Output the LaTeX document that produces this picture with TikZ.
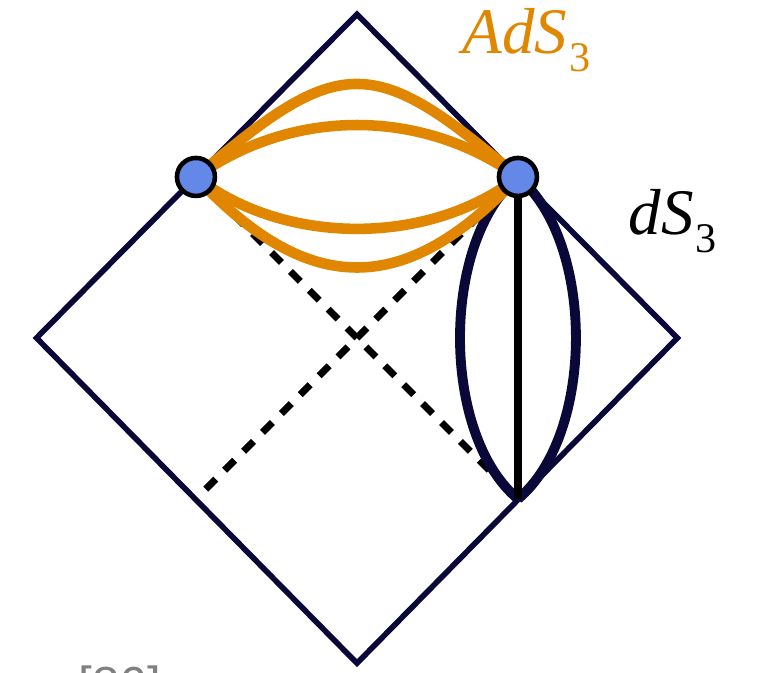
\documentclass[tikz,border=0pt]{standalone}
\usepackage{fontspec}
\setmainfont{Liberation Serif}
\newfontfamily\citefont{Liberation Sans}
\usepackage{tikz}
\usetikzlibrary{positioning,calc}
\definecolor{navy}{HTML}{0A0838}
\definecolor{adsorange}{HTML}{E08600}
\definecolor{dotblue}{HTML}{6388E8}

\begin{document}
\begin{tikzpicture}[x=1.61cm,y=1.61cm,
    edge/.style={navy, line width=1.6pt, line join=miter},
    horizon/.style={black, line width=2pt, dash pattern=on 4pt off 3.6pt},
    geo/.style={adsorange, line width=3pt},
    dsgeo/.style={navy, line width=2.8pt},
    bdot/.style={circle, draw=black, fill=dotblue, line width=1.3pt,
      minimum size=0.38cm, inner sep=0pt}]
    \clip (-2.217,-2.075) rectangle (2.559,2.099);
    \useasboundingbox (-2.217,-2.075) rectangle (2.559,2.099);

    % Corners of the diamond
    \coordinate (T) at (0,2.01);
    \coordinate (W) at (-1.99,0);
    \coordinate (Bt) at (0,-2.02);
    \coordinate (E) at (1.99,0);
    \coordinate (pL) at (-1,1);
    \coordinate (pR) at (1,1);
    \coordinate (qL) at (-1,-1);
    \coordinate (qR) at (1,-1);

    % Diamond
    \draw[edge] (T) -- (E) -- (Bt) -- (W) -- cycle;

    % Horizons
    \draw[horizon] (pL) -- (qR);
    \draw[horizon] (pR) -- (qL);

    % dS_3 slices
    \draw[dsgeo] (pR) .. controls (0.52,0.6) and (0.52,-0.6) .. (qR);
    \draw[dsgeo] (pR) .. controls (1.48,0.6) and (1.48,-0.6) .. (qR);
    \draw[black, line width=2.5pt] (pR) -- (qR);

    % AdS_3 slices
    \draw[geo] (pL) .. controls (-0.1,1.77) and (0.1,1.77) .. (pR);
    \draw[geo] (pL) .. controls (-0.4,1.43) and (0.4,1.43) .. (pR);
    \draw[geo] (pL) .. controls (-0.45,0.57) and (0.45,0.57) .. (pR);
    \draw[geo] (pL) .. controls (-0.3,0.25) and (0.3,0.25) .. (pR);

    % Endpoints
    \node[bdot] (L) at (pL) {};
    \node[bdot] (R) at (pR) {};

    % Labels
    \node[adsorange, anchor=base west, inner sep=0pt, font=\fontsize{18.5}{20}\selectfont]
      (adslabel) at (0.652,1.764) {\itshape AdS\kern0.5pt\raisebox{-5pt}{\upshape\fontsize{12}{12}\selectfont 3}};
    \node[black, anchor=base west, inner sep=0pt, font=\fontsize{18.5}{20}\selectfont]
      (dslabel) at (1.683,0.640) {\itshape dS\kern0.5pt\raisebox{-5pt}{\upshape\fontsize{12}{12}\selectfont 3}};
    \node[gray, anchor=north west, inner sep=0pt, font=\citefont\fontsize{14}{16}\selectfont]
      (cite) at (-1.733,-2.031) {[86]};
\end{tikzpicture}
\end{document}
